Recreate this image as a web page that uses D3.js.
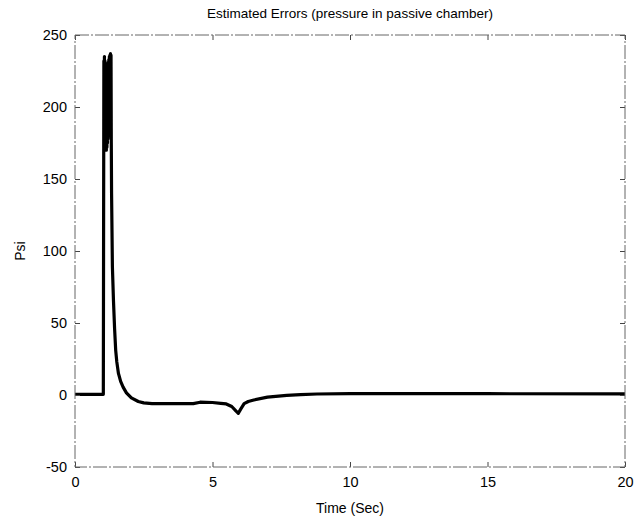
<!DOCTYPE html>
<html>
<head>
<meta charset="utf-8">
<script src="https://cdn.jsdelivr.net/npm/d3@7"></script>
<style>
  body { margin: 0; background: #fff; }
  svg { display: block; }
  text { font-family: "Liberation Sans", Arial, sans-serif; fill: #000; }
</style>
</head>
<body>
<svg id="chart" width="638" height="520"></svg>
<script>
// values
let timeSec = [0, 1.03, 1.05, 1.06, 1.07, 1.08, 1.09, 1.10, 1.11, 1.12, 1.13, 1.14, 1.15, 1.16, 1.17, 1.18,
  1.19, 1.20, 1.21, 1.22, 1.23, 1.24, 1.25, 1.26, 1.27, 1.28, 1.29, 1.30, 1.31, 1.32, 1.33, 1.36, 1.40,
  1.44, 1.48, 1.52, 1.58, 1.66, 1.75, 1.87, 2.05, 2.3, 2.5, 2.8, 3.5, 4.3, 4.55, 5.0, 5.3, 5.5, 5.7, 5.85, 5.94,
  6.02, 6.15, 6.3, 6.5, 7.0, 7.7, 8.2, 8.8, 10, 15, 20]
let errPsi = [0.5, 0.5, 232, 180, 235, 175, 232, 172, 230, 170, 228, 170, 229, 172, 230, 175,
  229, 178, 231, 180, 233, 182, 235, 185, 236, 188, 237, 190, 236, 175, 140, 89, 65,
  46, 31, 23, 15, 9.5, 5.5, 1.5, -2, -4.5, -5.5, -6, -6, -6, -5, -5.2, -5.8, -6.2, -8, -11, -12.7,
  -10, -6, -4.5, -3.5, -1.5, -0.3, 0.2, 0.7, 0.9, 0.9, 0.8]
let xTicks = [0, 5, 10, 15, 20]
let yTicks = [-50, 0, 50, 100, 150, 200, 250]

let marginLeft = 75,
    marginRight = 13,
    marginTop = 35,
    marginBottom = 53;

let svg = d3.select("#chart"),
    width = +svg.attr("width"),
    height = +svg.attr("height")

let x = d3.scaleLinear([0, 20], [marginLeft, width - marginRight]),
    y = d3.scaleLinear([-50, 250], [height - marginBottom, marginTop])

// data line
let line = d3.line()
    .x((d, i) => x(timeSec[i]))
    .y(d => y(d))
svg.append("path")
    .attr("d", line(errPsi))
    .attr("fill", "none")
    .attr("stroke", "#000")
    .attr("stroke-width", 3.2)
    .attr("stroke-linejoin", "round")

// frame + inward ticks (matlab style)
function styleAxis(g) {
    g.select(".domain").remove()
    g.selectAll(".tick line").attr("stroke", "#444")
    g.selectAll(".tick text").attr("font-size", 14.5).attr("font-family", "Liberation Sans, Arial, sans-serif")
}
let plain = d => String(d)
svg.append("g")
    .attr("transform", `translate(0, ${height - marginBottom})`)
    .call(d3.axisBottom(x).tickValues(xTicks).tickSize(-5).tickPadding(10).tickFormat(plain))
    .call(styleAxis)
svg.append("g")
    .attr("transform", `translate(0, ${marginTop})`)
    .call(d3.axisTop(x).tickValues(xTicks).tickSize(-5).tickFormat(""))
    .call(styleAxis)
svg.append("g")
    .attr("transform", `translate(${marginLeft}, 0)`)
    .call(d3.axisLeft(y).tickValues(yTicks).tickSize(-5).tickPadding(8).tickFormat(plain))
    .call(styleAxis)
svg.append("g")
    .attr("transform", `translate(${width - marginRight}, 0)`)
    .call(d3.axisRight(y).tickValues(yTicks).tickSize(-5).tickFormat(""))
    .call(styleAxis)

svg.append("rect")
    .attr("x", marginLeft)
    .attr("y", marginTop)
    .attr("width", width - marginLeft - marginRight)
    .attr("height", height - marginTop - marginBottom)
    .attr("fill", "none")
    .attr("stroke", "#666")
    .attr("stroke-width", 1)
    .attr("stroke-dasharray", "14,2,2,2")

// labels
svg.append("text")
    .attr("x", (marginLeft + width - marginRight) / 2)
    .attr("y", 18)
    .attr("text-anchor", "middle")
    .attr("font-size", 13.5)
    .text("Estimated Errors (pressure in passive chamber)")
svg.append("text")
    .attr("x", (marginLeft + width - marginRight) / 2)
    .attr("y", 513)
    .attr("text-anchor", "middle")
    .attr("font-size", 14)
    .text("Time (Sec)")
svg.append("text")
    .attr("transform", `translate(25, ${y(100)}) rotate(-90)`)
    .attr("text-anchor", "middle")
    .attr("font-size", 14)
    .text("Psi")
</script>
</body>
</html>
